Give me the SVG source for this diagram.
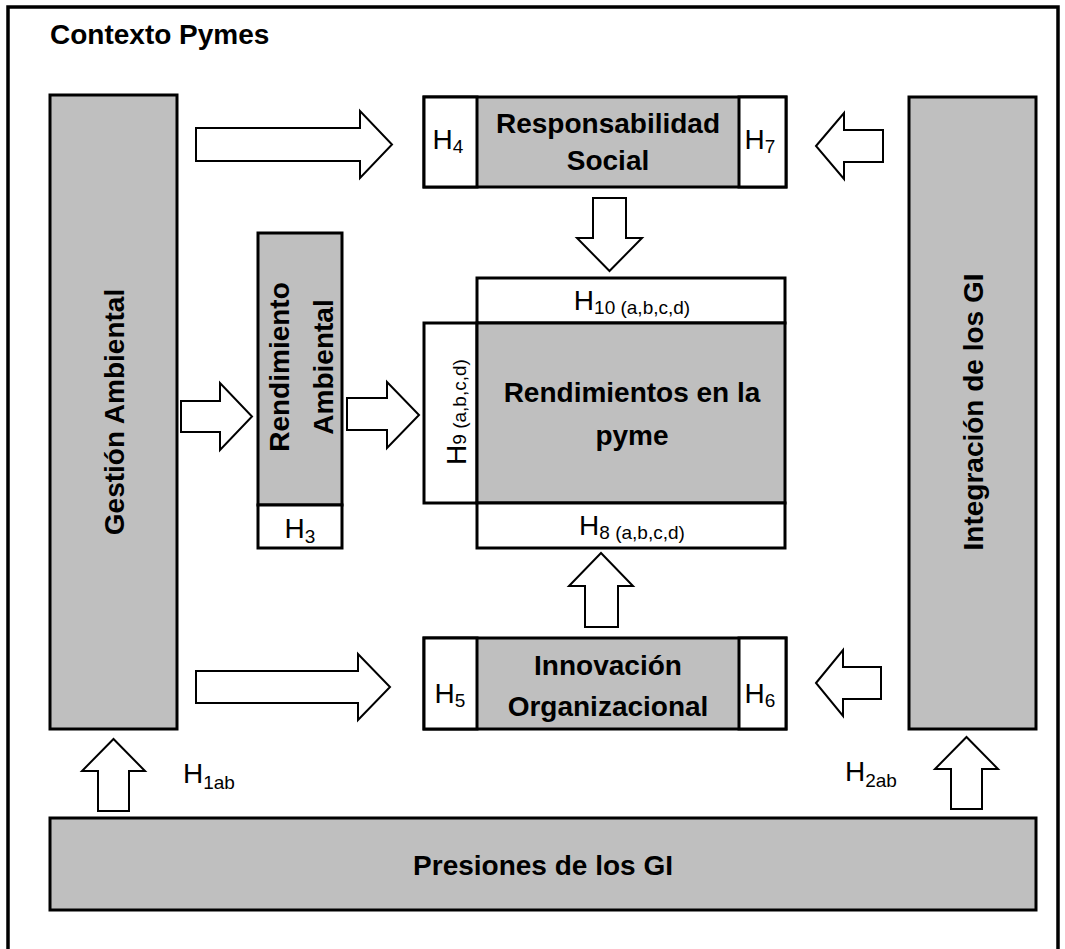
<svg xmlns="http://www.w3.org/2000/svg" width="1065" height="949" viewBox="0 0 1065 949">
  <style>
    .frame { fill: none; stroke: #000; stroke-width: 3.5; }
    .box { fill: #BFBFBF; stroke: #000; stroke-width: 3; }
    .cell { fill: #FFFFFF; stroke: #000; stroke-width: 3; }
    .div { stroke: #000; stroke-width: 3; }
    .arrow { fill: #FFFFFF; stroke: #000; stroke-width: 2; stroke-linejoin: miter; }
    text { font-family: "Liberation Sans", Arial, sans-serif; fill: #000; }
    .title { font-size: 28px; font-weight: bold; }
    .lbl { font-size: 28px; font-weight: bold; text-anchor: middle; }
    .h { font-size: 28px; }
    .hm { font-size: 28px; text-anchor: middle; }
    .sub { font-size: 19px; }
  </style>

  <rect width="1065" height="949" fill="#FFFFFF"/>

  <!-- outer context frame (open at the bottom) -->
  <path class="frame" d="M8,949 V7 H1058 V949"/>
  <text class="title" x="50" y="44">Contexto Pymes</text>

  <!-- Gestión Ambiental -->
  <g id="gestion-ambiental">
    <rect class="box" x="50" y="95" width="127" height="634"/>
    <text class="lbl" transform="translate(124,412) rotate(-90)">Gestión Ambiental</text>
  </g>

  <!-- Integración de los GI -->
  <g id="integracion-gi">
    <rect class="box" x="909" y="97" width="127" height="632"/>
    <text class="lbl" transform="translate(983,412) rotate(-90)">Integración de los GI</text>
  </g>

  <!-- Rendimiento Ambiental with H3 -->
  <g id="rendimiento-ambiental">
    <rect class="box" x="258" y="233" width="84" height="272"/>
    <rect class="cell" x="258" y="505" width="84" height="43"/>
    <text class="lbl" transform="translate(289,367) rotate(-90)">Rendimiento</text>
    <text class="lbl" transform="translate(333,367) rotate(-90)">Ambiental</text>
    <text class="hm" x="300" y="538">H<tspan class="sub" dy="5">3</tspan></text>
  </g>

  <!-- Responsabilidad Social with H4 / H7 -->
  <g id="responsabilidad-social">
    <rect class="box" x="424" y="97" width="362" height="90"/>
    <rect class="cell" x="424" y="97" width="53" height="90"/>
    <rect class="cell" x="739" y="97" width="47" height="90"/>
    <text class="lbl" x="608" y="133">Responsabilidad</text>
    <text class="lbl" x="608" y="170">Social</text>
    <text class="hm" x="448" y="149">H<tspan class="sub" dy="4">4</tspan></text>
    <text class="hm" x="760" y="149">H<tspan class="sub" dy="4">7</tspan></text>
  </g>

  <!-- Rendimientos en la pyme with H8 / H9 / H10 -->
  <g id="rendimientos-pyme">
    <rect class="cell" x="477" y="278" width="308" height="45"/>
    <rect class="cell" x="424" y="323" width="53" height="180"/>
    <rect class="box" x="477" y="323" width="308" height="180"/>
    <rect class="cell" x="477" y="503" width="308" height="45"/>
    <text class="hm" x="632" y="310">H<tspan class="sub" dy="4">10 (a,b,c,d)</tspan></text>
    <text class="hm" transform="translate(466,412) rotate(-90)">H<tspan class="sub">9 (a,b,c,d)</tspan></text>
    <text class="lbl" x="632" y="402">Rendimientos en la</text>
    <text class="lbl" x="632" y="445">pyme</text>
    <text class="hm" x="632" y="535">H<tspan class="sub" dy="4">8 (a,b,c,d)</tspan></text>
  </g>

  <!-- Innovación Organizacional with H5 / H6 -->
  <g id="innovacion-organizacional">
    <rect class="box" x="424" y="638" width="362" height="91"/>
    <rect class="cell" x="424" y="638" width="53" height="91"/>
    <rect class="cell" x="739" y="638" width="47" height="91"/>
    <text class="lbl" x="608" y="675">Innovación</text>
    <text class="lbl" x="608" y="716">Organizacional</text>
    <text class="hm" x="450" y="703">H<tspan class="sub" dy="4">5</tspan></text>
    <text class="hm" x="760" y="703">H<tspan class="sub" dy="4">6</tspan></text>
  </g>

  <!-- Presiones de los GI -->
  <g id="presiones-gi">
    <rect class="box" x="50" y="818" width="986" height="92"/>
    <text class="lbl" x="543" y="875">Presiones de los GI</text>
  </g>

  <!-- hypothesis labels beside the bottom arrows -->
  <g id="h1ab">
    <text class="h" x="183" y="783">H<tspan class="sub" dy="6">1ab</tspan></text>
  </g>
  <g id="h2ab">
    <text class="h" x="845" y="781">H<tspan class="sub" dy="6">2ab</tspan></text>
  </g>

  <!-- block arrows -->
  <g id="connectors">
    <polygon class="arrow" points="196,128 360,128 360,111 392,144.5 360,178 360,161 196,161"/>
    <polygon class="arrow" points="196,671 358,671 358,654 390,687 358,720 358,703 196,703"/>
    <polygon class="arrow" points="816,146 844,113 844,130 883,130 883,162 844,162 844,179"/>
    <polygon class="arrow" points="816,683 843,650 843,667 881,667 881,699 843,699 843,716"/>
    <polygon class="arrow" points="181,401 220,401 220,383 252,416.5 220,450 220,432 181,432"/>
    <polygon class="arrow" points="347,398 387,398 387,382 419,415 387,448 387,430 347,430"/>
    <polygon class="arrow" points="593,198 626,198 626,238 642,238 609.5,271 577,238 593,238"/>
    <polygon class="arrow" points="585,627 618,627 618,586 633,586 601,553 569,586 585,586"/>
    <polygon class="arrow" points="98,811 129,811 129,771 145,771 113.5,739 82,771 98,771"/>
    <polygon class="arrow" points="951,809 982,809 982,769 998,769 966.5,737 935,769 951,769"/>
  </g>
</svg>
